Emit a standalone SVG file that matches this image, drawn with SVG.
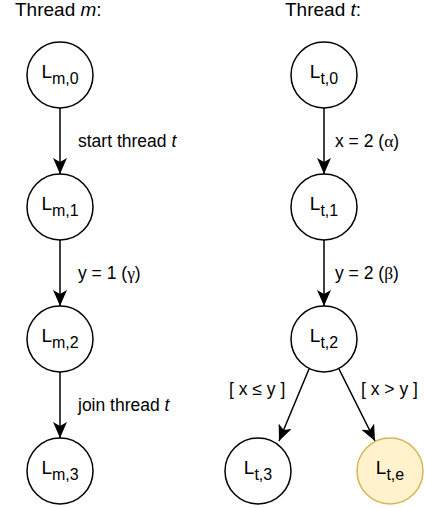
<svg xmlns="http://www.w3.org/2000/svg" width="425" height="508" viewBox="0 0 425 508">
  <style>
    text { font-family: "Liberation Sans", Arial, sans-serif; fill: #000; }
    .title { font-size: 19px; }
    .lbl { font-size: 17.5px; }
    .node-label { font-size: 19px; text-anchor: middle; }
    .sub { font-size: 16px; }
    .greek { font-family: "Liberation Serif", "Times New Roman", serif; }
    .state { fill: #ffffff; stroke: #000000; stroke-width: 1.5; }
    .state.error { fill: #fff2cc; stroke: #d6b656; }
    .edge { stroke: #000000; stroke-width: 1.5; fill: none; marker-end: url(#arrow); }
  </style>
  <defs>
    <marker id="arrow" markerUnits="userSpaceOnUse" viewBox="0 0 16 14" refX="16" refY="7" markerWidth="16" markerHeight="14" orient="auto">
      <path d="M0,0 L16,7 L0,14 L4,7 Z" fill="#000000"/>
    </marker>
  </defs>

  <!-- column headings -->
  <text class="title" x="15" y="16">Thread <tspan font-style="italic">m</tspan>:</text>
  <text class="title" x="285" y="16">Thread <tspan font-style="italic">t</tspan>:</text>

  <!-- transitions -->
  <g id="connectors">
    <line class="edge" x1="60" y1="108" x2="60" y2="174"/>
    <line class="edge" x1="60" y1="240" x2="60" y2="306"/>
    <line class="edge" x1="60" y1="372" x2="60" y2="438"/>
    <line class="edge" x1="324" y1="108" x2="324" y2="174"/>
    <line class="edge" x1="324" y1="240" x2="324" y2="306"/>
    <line class="edge" x1="309" y1="369" x2="279" y2="441"/>
    <line class="edge" x1="339" y1="369" x2="375" y2="441"/>

    <text class="lbl" x="78" y="147">start thread <tspan font-style="italic">t</tspan></text>
    <text class="lbl" x="78" y="279">y = 1 (<tspan class="greek">γ</tspan>)</text>
    <text class="lbl" x="78" y="411">join thread <tspan font-style="italic">t</tspan></text>
    <text class="lbl" x="335" y="147">x = 2 (<tspan class="greek">α</tspan>)</text>
    <text class="lbl" x="335" y="279">y = 2 (<tspan class="greek">β</tspan>)</text>
    <text class="lbl" x="229" y="395" xml:space="preserve">[ x ≤ y ]</text>
    <text class="lbl" x="361" y="395" xml:space="preserve">[ x &gt; y ]</text>
  </g>

  <!-- thread m states -->
  <g id="Lm0">
    <circle class="state" cx="60" cy="75" r="33"/>
    <text class="node-label" x="60" y="78">L<tspan class="sub" dy="6">m,0</tspan></text>
  </g>
  <g id="Lm1">
    <circle class="state" cx="60" cy="207" r="33"/>
    <text class="node-label" x="60" y="210">L<tspan class="sub" dy="6">m,1</tspan></text>
  </g>
  <g id="Lm2">
    <circle class="state" cx="60" cy="339" r="33"/>
    <text class="node-label" x="60" y="342">L<tspan class="sub" dy="6">m,2</tspan></text>
  </g>
  <g id="Lm3">
    <circle class="state" cx="60" cy="471" r="33"/>
    <text class="node-label" x="60" y="474">L<tspan class="sub" dy="6">m,3</tspan></text>
  </g>

  <!-- thread t states -->
  <g id="Lt0">
    <circle class="state" cx="324" cy="75" r="33"/>
    <text class="node-label" x="324" y="78">L<tspan class="sub" dy="6">t,0</tspan></text>
  </g>
  <g id="Lt1">
    <circle class="state" cx="324" cy="207" r="33"/>
    <text class="node-label" x="324" y="210">L<tspan class="sub" dy="6">t,1</tspan></text>
  </g>
  <g id="Lt2">
    <circle class="state" cx="324" cy="339" r="33"/>
    <text class="node-label" x="324" y="342">L<tspan class="sub" dy="6">t,2</tspan></text>
  </g>
  <g id="Lt3">
    <circle class="state" cx="258" cy="471" r="33"/>
    <text class="node-label" x="258" y="474">L<tspan class="sub" dy="6">t,3</tspan></text>
  </g>
  <g id="Lte">
    <circle class="state error" cx="390" cy="471" r="33"/>
    <text class="node-label" x="390" y="474">L<tspan class="sub" dy="6">t,e</tspan></text>
  </g>
</svg>
